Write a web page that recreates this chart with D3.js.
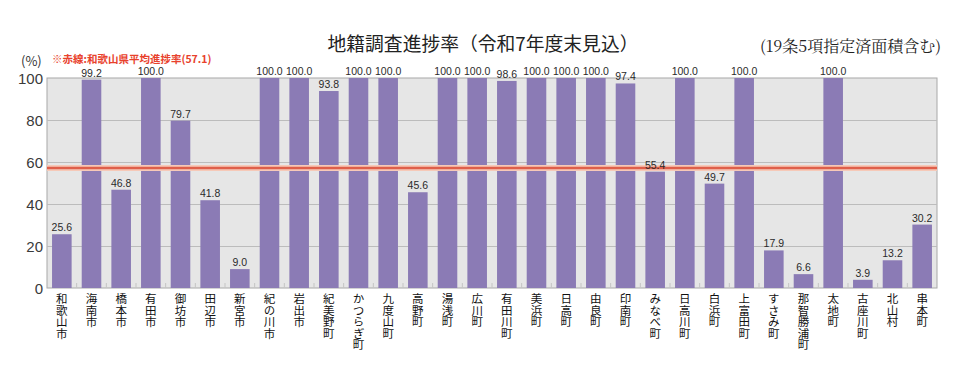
<!DOCTYPE html>
<html><head><meta charset="utf-8">
<script src="https://cdn.jsdelivr.net/npm/d3@7"></script>
<style>html,body{margin:0;padding:0;background:#fff;}svg{display:block;}
.vlab{writing-mode:vertical-rl;text-orientation:upright;}</style>
</head><body>
<svg id="chart" width="962" height="384"></svg>
<script>
const categories = ["和歌山市","海南市","橋本市","有田市","御坊市","田辺市","新宮市","紀の川市","岩出市","紀美野町","かつらぎ町","九度山町","高野町","湯浅町","広川町","有田川町","美浜町","日高町","由良町","印南町","みなべ町","日高川町","白浜町","上富田町","すさみ町","那智勝浦町","太地町","古座川町","北山村","串本町"];
const values = [25.6,99.2,46.8,100.0,79.7,41.8,9.0,100.0,100.0,93.8,100.0,100.0,45.6,100.0,100.0,98.6,100.0,100.0,100.0,97.4,55.4,100.0,49.7,100.0,17.9,6.6,100.0,3.9,13.2,30.2];
const yTicks = [0,20,40,60,80,100];
const average = 57.1;
const titleText = "地籍調査進捗率（令和7年度末見込）";
const subtitleText = "(19条5項指定済面積含む)";
const unitText = "(%)";
const noteText = "※赤線:和歌山県平均進捗率(57.1)";

const svg = d3.select("#chart");
const m = {left:47, right:25, top:78, bottom:96};
const W = 962, H = 384;
const x = d3.scaleBand().domain(categories).range([m.left, W - m.right]).paddingInner(0.34).paddingOuter(0.17);
const y = d3.scaleLinear().domain([0,100]).range([H - m.bottom, m.top]);
const jp = "'Noto Sans CJK JP','Noto Sans',sans-serif";

// plot background
svg.append("rect").attr("x", m.left).attr("y", m.top)
  .attr("width", W - m.right - m.left).attr("height", y(0) - m.top)
  .attr("fill", "#e6e6e6").attr("stroke", "#a8a8a8").attr("stroke-width", 1);

// gridlines
svg.append("g").selectAll("line").data(yTicks.filter(d => d > 0 && d < 100)).join("line")
  .attr("x1", m.left).attr("x2", W - m.right)
  .attr("y1", d => y(d) + 0.5).attr("y2", d => y(d) + 0.5)
  .attr("stroke", "#bcbcbc").attr("stroke-width", 1);

// bottom ticks between categories
const step = x.step();
svg.append("g").selectAll("line").data(d3.range(1, categories.length)).join("line")
  .attr("x1", i => m.left + i * step).attr("x2", i => m.left + i * step)
  .attr("y1", y(0)).attr("y2", y(0) - 5)
  .attr("stroke", "#c4c4c4").attr("stroke-width", 1);

// bars
svg.append("g").selectAll("rect").data(values).join("rect")
  .attr("x", (d,i) => x(categories[i])).attr("width", x.bandwidth())
  .attr("y", d => y(d)).attr("height", d => y(0) - y(d))
  .attr("fill", "#8b7bb5");

// average line
svg.append("line").attr("x1", m.left).attr("x2", W - m.right)
  .attr("y1", y(average)).attr("y2", y(average))
  .attr("stroke", "#f6c9b8").attr("stroke-width", 6);
svg.append("line").attr("x1", m.left).attr("x2", W - m.right)
  .attr("y1", y(average)).attr("y2", y(average))
  .attr("stroke", "#df5f4a").attr("stroke-width", 2.5);

// value labels
svg.append("g").selectAll("text").data(values).join("text")
  .attr("x", (d,i) => x(categories[i]) + x.bandwidth()/2)
  .attr("y", d => y(d) - 3)
  .attr("text-anchor", "middle")
  .attr("font-family", "'Liberation Sans Narrow','Liberation Sans',Arial,sans-serif")
  .attr("font-size", 10.5).attr("fill", "#2a2a2a")
  .text(d => d.toFixed(1));

// y axis labels
svg.append("g").selectAll("text").data(yTicks).join("text")
  .attr("x", 43).attr("y", d => y(d) + 5.5)
  .attr("text-anchor", "end")
  .attr("font-family", "'Liberation Sans',Arial,sans-serif")
  .attr("font-size", 15).attr("fill", "#3a3a3a")
  .text(d => d);

// x category labels (vertical writing)
svg.append("g").selectAll("text").data(categories).join("text")
  .attr("class", "vlab")
  .attr("x", c => x(c) + x.bandwidth()/2)
  .attr("y", 293)
  .attr("font-family", jp).attr("font-size", 11.5).attr("fill", "#111")
  .text(c => c);

// title
svg.append("text").attr("x", 483).attr("y", 51).attr("text-anchor", "middle")
  .attr("font-family", jp).attr("font-size", 18.8).attr("fill", "#222").text(titleText);
svg.append("text").attr("x", 941).attr("y", 52).attr("text-anchor", "end")
  .attr("font-family", "'Noto Serif CJK JP','Noto Sans CJK JP',serif").attr("font-size", 16).attr("fill", "#222").text(subtitleText);
svg.append("text").attr("x", 21).attr("y", 66)
  .attr("font-family", jp).attr("font-size", 13).attr("fill", "#333").text(unitText);
svg.append("text").attr("x", 52).attr("y", 62.5)
  .attr("font-family", jp).attr("font-size", 10.5).attr("font-weight", "bold").attr("fill", "#e8412c").text(noteText);
</script>
</body></html>
